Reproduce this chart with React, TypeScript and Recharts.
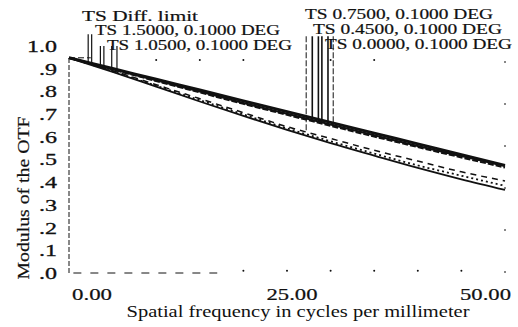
import * as React from "react";
import {
  LineChart,
  Line,
  XAxis,
  YAxis,
  ReferenceLine,
  ReferenceDot,
} from "recharts";

// spatial frequency (cycles/mm)
const freq = [0, 5, 10, 15, 20, 25, 30, 35, 40, 45, 50];

// MTF values
const diffLimit = [1.0, 0.95, 0.9, 0.85, 0.8, 0.75, 0.7, 0.65, 0.6, 0.55, 0.5];
const ts000 = [1.0, 0.948, 0.895, 0.843, 0.79, 0.74, 0.69, 0.64, 0.59, 0.543, 0.497];
const ts045 = [1.0, 0.946, 0.892, 0.839, 0.786, 0.735, 0.684, 0.634, 0.585, 0.537, 0.49];
const ts075 = [1.0, 0.94, 0.875, 0.81, 0.745, 0.68, 0.625, 0.57, 0.52, 0.47, 0.428];
const ts105 = [1.0, 0.937, 0.87, 0.803, 0.737, 0.672, 0.612, 0.555, 0.5, 0.452, 0.405];
const ts150 = [1.0, 0.935, 0.866, 0.797, 0.73, 0.665, 0.603, 0.545, 0.488, 0.435, 0.386];

const yTicks = [0, 0.1, 0.2, 0.3, 0.4, 0.5, 0.6, 0.7, 0.8, 0.9, 1.0];
const xTicks = [0, 25, 50];
const xMinorTicks = [20, 25, 30, 35, 40, 45];
const topMinorTicks = [10, 15, 20, 30, 35];

// leader lines: frequency where the line drops, which curve it hits, top of line
const leftLeaders = [
  { x: 2.2, key: "diff", top: 1.11 },
  { x: 2.6, key: "ts150", top: 1.11 },
  { x: 3.6, key: "ts105", top: 1.055 },
  { x: 4.0, key: "ts075", top: 1.055 },
  { x: 4.9, key: "ts045", top: 1.055 },
  { x: 5.5, key: "ts000", top: 1.055 },
];
const rightLeaders = [
  { x: 27.2, key: "ts075", top: 1.1, dashed: true },
  { x: 27.9, key: "diff", top: 1.1 },
  { x: 28.6, key: "ts045", top: 1.1 },
  { x: 29.0, key: "ts000", top: 1.1 },
  { x: 29.7, key: "ts000", top: 1.1 },
  { x: 30.3, key: "ts000", top: 1.1, dashed: true },
];

const data = freq.map((f, i) => ({
  f,
  diff: diffLimit[i],
  ts000: ts000[i],
  ts045: ts045[i],
  ts075: ts075[i],
  ts105: ts105[i],
  ts150: ts150[i],
}));

function valueAt(key: string, x: number) {
  for (let i = 0; i < data.length - 1; i++) {
    const a = data[i] as any;
    const b = data[i + 1] as any;
    if (x >= a.f && x <= b.f) {
      const t = (x - a.f) / (b.f - a.f);
      return a[key] + (b[key] - a[key]) * t;
    }
  }
  return 0;
}

const serif = "'Liberation Serif', 'DejaVu Serif', serif";
const ink = "#111";

const YTick = (props: any) => {
  const { x, y, payload } = props;
  const v = payload.value;
  const label = v >= 1 ? "1.0" : "." + Math.round(v * 10);
  return (
    <text
      x={x - 4}
      y={y - v * 12 + 6}
      textAnchor="end"
      fontFamily={serif}
      fontSize={16}
      textLength={v >= 1 ? 30 : 18}
      lengthAdjust="spacingAndGlyphs"
      fill={ink}
      stroke={ink}
      strokeWidth={0.3}
    >
      {label}
    </text>
  );
};

const XTick = (props: any) => {
  const { x, y, payload, index } = props;
  const anchor = index === 0 ? "start" : index === 1 ? "middle" : "end";
  const dx = index === 0 ? 3 : index === 1 ? 5 : 6;
  return (
    <text
      x={x + dx}
      y={y + 19}
      textAnchor={anchor}
      fontFamily={serif}
      fontSize={16}
      textLength={index === 0 ? 40 : 51}
      lengthAdjust="spacingAndGlyphs"
      fill={ink}
      stroke={ink}
      strokeWidth={0.2}
    >
      {payload.value.toFixed(2)}
    </text>
  );
};

const annotations = [
  { text: "TS Diff. limit", x: 82, y: 21, w: 116 },
  { text: "TS 1.5000, 0.1000 DEG", x: 95, y: 35, w: 185 },
  { text: "TS 1.0500, 0.1000 DEG", x: 107, y: 50, w: 185 },
  { text: "TS 0.7500, 0.1000 DEG", x: 305, y: 19, w: 188 },
  { text: "TS 0.4500, 0.1000 DEG", x: 313, y: 34, w: 189 },
  { text: "TS 0.0000, 0.1000 DEG", x: 325, y: 49, w: 187 },
];

export default function App() {
  return (
    <div
      style={{
        position: "absolute",
        left: 0,
        top: 0,
        width: 518,
        height: 327,
        background: "#fff",
      }}
    >
      <LineChart
        width={518}
        height={327}
        data={data}
        margin={{ top: 4, right: 13, left: 0, bottom: 0 }}
      >
        <XAxis
          dataKey="f"
          type="number"
          domain={[0, 50]}
          ticks={xTicks}
          tick={<XTick />}
          tickLine={false}
          axisLine={false}
          height={54}
          label={{
            value: "Spatial frequency in cycles per millimeter",
            position: "insideBottom",
            offset: 10,
            dx: 11,
            fontFamily: serif,
            fontSize: 16,
            fill: ink,
            textLength: 343,
            lengthAdjust: "spacingAndGlyphs",
          }}
        />
        <YAxis
          type="number"
          domain={[0, 1.25]}
          ticks={yTicks}
          tick={<YTick />}
          tickLine={false}
          axisLine={false}
          width={69}
          interval={0}
        />
        {/* frame */}
        <ReferenceLine
          segment={[
            { x: 0, y: 0 },
            { x: 0, y: 1 },
          ]}
          stroke={ink}
          strokeDasharray="5 2"
        />
        <ReferenceLine
          segment={[
            { x: 0.5, y: 0 },
            { x: 17, y: 0 },
          ]}
          stroke={ink}
          strokeDasharray="8 9"
        />
        <ReferenceLine
          segment={[
            { x: 0, y: 1 },
            { x: 2.5, y: 1 },
          ]}
          stroke={ink}
          strokeDasharray="6 3"
        />
        <ReferenceLine
          segment={[
            { x: 50, y: 0 },
            { x: 50, y: 1 },
          ]}
          stroke={ink}
          strokeDasharray="2 40"
        />
        {xMinorTicks.map((t) => (
          <ReferenceDot
            key={t}
            x={t}
            y={0.01}
            r={1}
            fill={ink}
            stroke="none"
          />
        ))}
        {topMinorTicks.map((t) => (
          <ReferenceDot
            key={"t" + t}
            x={t}
            y={0.99}
            r={1}
            fill={ink}
            stroke="none"
          />
        ))}
        {/* leader lines */}
        {leftLeaders.map((l, i) => (
          <ReferenceLine
            key={"l" + i}
            segment={[
              { x: l.x, y: l.top },
              { x: l.x, y: valueAt(l.key, l.x) },
            ]}
            stroke={ink}
            strokeWidth={1.2}
          />
        ))}
        {rightLeaders.map((l, i) => (
          <ReferenceLine
            key={"r" + i}
            segment={[
              { x: l.x, y: l.top },
              { x: l.x, y: valueAt(l.key, l.x) },
            ]}
            stroke={ink}
            strokeWidth={l.dashed ? 1 : 1.6}
            strokeDasharray={l.dashed ? "6 2" : undefined}
          />
        ))}
        <Line
          dataKey="diff"
          type="monotone"
          stroke={ink}
          strokeWidth={3}
          dot={false}
          isAnimationActive={false}
        />
        <Line
          dataKey="ts000"
          type="monotone"
          stroke={ink}
          strokeWidth={2}
          dot={false}
          isAnimationActive={false}
        />
        <Line
          dataKey="ts045"
          type="monotone"
          stroke={ink}
          strokeWidth={2}
          strokeDasharray="6 2"
          dot={false}
          isAnimationActive={false}
        />
        <Line
          dataKey="ts075"
          type="monotone"
          stroke={ink}
          strokeWidth={1.5}
          strokeDasharray="6 5"
          dot={false}
          isAnimationActive={false}
        />
        <Line
          dataKey="ts105"
          type="monotone"
          stroke={ink}
          strokeWidth={1.8}
          strokeDasharray="2 3"
          dot={false}
          isAnimationActive={false}
        />
        <Line
          dataKey="ts150"
          type="monotone"
          stroke={ink}
          strokeWidth={1.8}
          dot={false}
          isAnimationActive={false}
        />
      </LineChart>
      <svg
        width={518}
        height={327}
        style={{ position: "absolute", left: 0, top: 0, pointerEvents: "none" }}
      >
        {annotations.map((a) => (
          <text
            key={a.text}
            x={a.x}
            y={a.y}
            fontFamily={serif}
            fontSize={14}
            textLength={a.w}
            lengthAdjust="spacingAndGlyphs"
            fill={ink}
            stroke={ink}
            strokeWidth={0.2}
          >
            {a.text}
          </text>
        ))}
        <text
          transform="translate(29 198) rotate(-90)"
          textAnchor="middle"
          fontFamily={serif}
          fontSize={16}
          textLength={163}
          lengthAdjust="spacingAndGlyphs"
          fill={ink}
          stroke={ink}
          strokeWidth={0.2}
        >
          Modulus of the OTF
        </text>
      </svg>
    </div>
  );
}
